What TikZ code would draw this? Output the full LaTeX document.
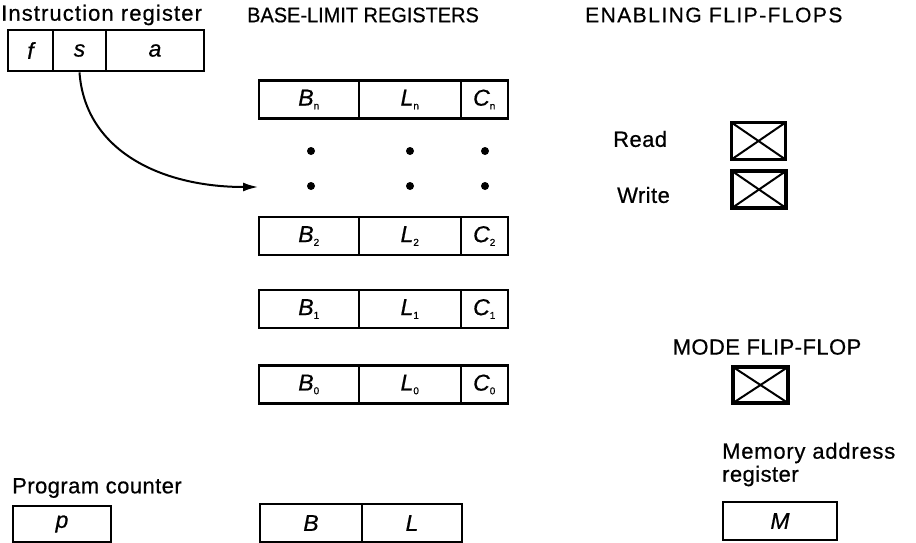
\documentclass[tikz,border=0pt]{standalone}
\usepackage{fontspec}
\setmainfont{Liberation Sans}
\usetikzlibrary{arrows.meta}
\begin{document}
\begin{tikzpicture}[x=1pt,y=-1pt]
\useasboundingbox (0,0) rectangle (916,543);
\tikzset{
  cell/.style={draw, line width=2.8pt, inner sep=0pt, minimum height=#1,
    font=\fontsize{23}{24}\selectfont\itshape\addfontfeature{FakeBold=0.6}},
  cell/.default=38pt,
  ff/.style={draw, line width=3.2pt, inner sep=0pt, minimum width=54pt, minimum height=37pt,
    path picture={\draw[line width=2pt]
      (path picture bounding box.north west) -- (path picture bounding box.south east)
      (path picture bounding box.south west) -- (path picture bounding box.north east);}},
  lbl/.style={inner sep=0pt, anchor=west,
    font=\fontsize{22}{24}\selectfont\addfontfeature{FakeBold=0.6,LetterSpace=2}},
  hdr/.style={inner sep=0pt, anchor=west,
    font=\fontsize{21}{24}\selectfont\addfontfeature{FakeBold=0.6}},
  dotmark/.style={circle, fill, inner sep=0pt, minimum size=8pt},
}
\newcommand{\sub}[1]{\textsubscript{\upshape\fontsize{10}{10}\selectfont #1}}

% instruction register
\node[lbl] (irlbl) at (1,15) {\addfontfeature{LetterSpace=5}Instruction register};
\node[cell=41pt, minimum width=45pt] (f) at (30.5,50.5) {f};
\node[cell=41pt, minimum width=53pt] (s) at (79.5,50.5) {s};
\node[cell=41pt, minimum width=98pt] (a) at (155,50.5) {a};

% base-limit registers
\node[hdr] (blhdr) at (247,15) {\addfontfeature{FakeStretch=0.95}BASE-LIMIT REGISTERS};
\foreach \r/\y in {n/99.5, 2/236, 1/309, 0/384.5}{
  \node[cell, minimum width=100pt] (B\r) at (309,\y) {B\sub{\r}};
  \node[cell, minimum width=102pt] (L\r) at (410,\y) {L\sub{\r}};
  \node[cell, minimum width=47pt]  (C\r) at (484.5,\y) {C\sub{\r}};
}
\foreach \c/\x in {b/311, l/410, c/485}{
  \node[dotmark] (\c up) at (\x,151) {};
  \node[dotmark] (\c dn) at (\x,186) {};
}

% selector field points into the register file
\coordinate (sel) at (258,187);
\draw[line width=2pt, -{Latex[length=15pt,width=9pt]}]
  (s.south) .. controls (85,150) and (160,187) .. (sel);

% enabling flip-flops
\node[hdr] (ffhdr) at (585,15) {\addfontfeature{LetterSpace=7}ENABLING FLIP-FLOPS};
\node[lbl] (rd) at (613,139) {Read};
\node[lbl] (wr) at (617,195) {Write};
\node[ff] (rdff) at (758.5,141) {};
\node[ff] (wrff) at (759,189.5) {};

% mode flip-flop
\node[lbl, anchor=center] (mdhdr) at (767,347) {MODE FLIP-FLOP};
\node[ff, minimum width=55pt, minimum height=36pt] (mdff) at (760.5,385) {};

% memory address register
\node[lbl] (mar1) at (722,453) {\addfontfeature{LetterSpace=3.5}Memory address};
\node[lbl] (mar2) at (722,476) {register};
\node[cell, minimum width=114pt] (M) at (780,521) {M};

% program counter
\node[lbl] (pclbl) at (12,488) {Program counter};
\node[cell=36pt, minimum width=98pt] (p) at (62,524) {p};

% current base and limit
\node[cell, minimum width=102pt] (B) at (311,523) {B};
\node[cell, minimum width=100pt] (L) at (412,523) {L};
\end{tikzpicture}
\end{document}
